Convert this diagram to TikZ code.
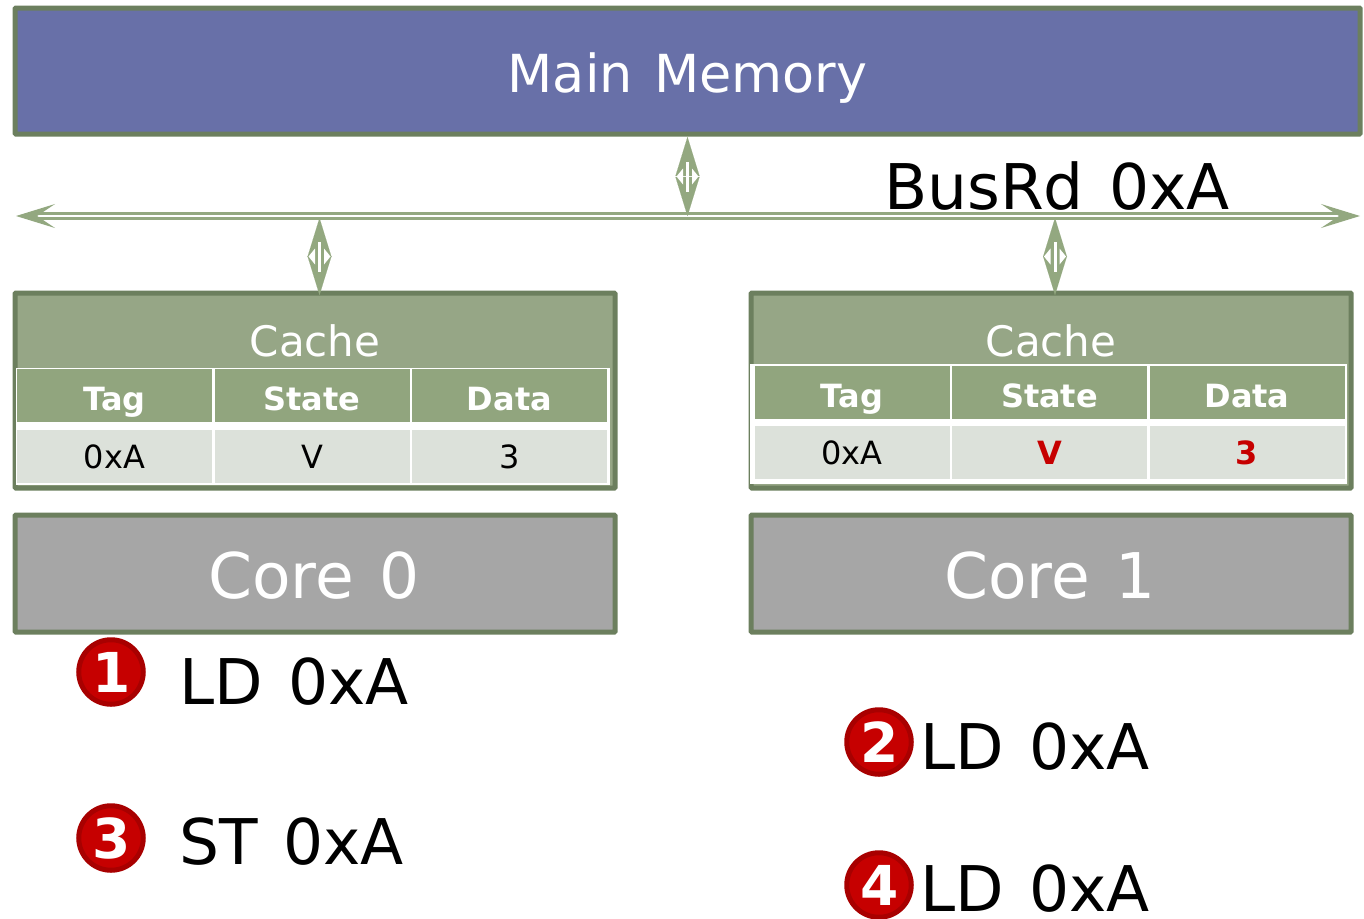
\documentclass[tikz,border=0pt]{standalone}
\usepackage{fontspec}
\setmainfont[WordSpace=1.28]{DejaVu Sans}
\usetikzlibrary{arrows.meta,calc}
\definecolor{bordergreen}{HTML}{6C7F5E}
\definecolor{cachefill}{HTML}{96A686}
\definecolor{headfill}{HTML}{91A57E}
\definecolor{rowfill}{HTML}{DCE1DA}
\definecolor{arrowgreen}{HTML}{93A880}
\definecolor{memfill}{HTML}{6870A8}
\definecolor{corefill}{HTML}{A6A6A6}
\definecolor{redfill}{HTML}{C60000}
\definecolor{redring}{HTML}{A80000}
\tikzset{
  x=1pt,y=-1pt,
  panel/.style={draw=bordergreen,line width=5pt,rounded corners=0.8pt,inner sep=0pt,outer sep=0pt},
  frame/.style={fill=white,draw=none,inner sep=0pt,outer sep=0pt},
  cell/.style={inner sep=0pt,outer sep=0pt,minimum width=#1},
  headcell/.style={cell=195pt,minimum height=53pt,fill=headfill,text=white,font=\bfseries\fontsize{32}{32}\selectfont},
  rowcell/.style={cell=195pt,minimum height=53pt,fill=rowfill,text=black,font=\fontsize{32}{32}\selectfont},
  redval/.style={text=redfill,font=\bfseries\fontsize{32}{32}\selectfont},
  title/.style={text=white,inner sep=0pt,anchor=base},
  big/.style={text=black,inner sep=0pt,anchor=base west,font=\fontsize{63}{63}\selectfont},
  badge/.style={circle,fill=redfill,draw=redring,line width=5pt,minimum size=64.5pt,inner sep=0pt,text=white,font=\bfseries\fontsize{55}{55}\selectfont},
  busline/.style={draw=arrowgreen,line width=2.6pt,double=white,double distance=2.5pt,
    {Stealth[length=39pt,width=24pt,inset=18pt,fill=arrowgreen]}-{Stealth[length=39pt,width=24pt,inset=18pt,fill=arrowgreen]}},
  linkline/.style={draw=arrowgreen,line width=0.01pt,
    {Triangle[length=39pt,width=24pt,fill=arrowgreen]}-{Triangle[length=39pt,width=24pt,fill=arrowgreen]}},
}
\newcommand{\linkarrow}[3]{%
  \draw[linkline] (#1) -- (#2) coordinate[midway] (#3);
  \fill[white] ($(#3)+(-11,0)$) -- ($(#3)+(-4.5,-8)$) -- ($(#3)+(-4.5,8)$) -- cycle;
  \fill[white] ($(#3)+(11,0)$) -- ($(#3)+(4.5,-8)$) -- ($(#3)+(4.5,8)$) -- cycle;
  \fill[white] ($(#3)+(-1.5,-15)$) rectangle ($(#3)+(1.5,15)$);
}
\begin{document}
\begin{tikzpicture}
\useasboundingbox (0,0) rectangle (1364,918);
% main memory
\node[panel,fill=memfill,minimum width=1345pt,minimum height=126pt] (mem) at (687.5,71) {};
\node[title,font=\fontsize{52.4}{52.4}\selectfont] (memt) at (687.5,92) {Main Memory};
% bus
\coordinate (busl) at (16,216);
\coordinate (busr) at (1360,216);
\draw[busline] (busl) -- (busr);
\node[font=\fontsize{63}{63}\selectfont,inner sep=0pt,anchor=base west] (bust) at (884,209) {BusRd 0xA};
% cache 0
\node[panel,fill=cachefill,minimum width=600pt,minimum height=195pt] (c0) at (315,390.5) {};
\node[title,font=\fontsize{42}{42}\selectfont] (c0t) at (315,356.5) {Cache};
\node[frame,minimum width=594pt,minimum height=117pt] (t0) at (312.5,426) {};
\node[headcell] (c0a) at (114.5,395.5) {};
\node[headcell] (c0b) at (312,395.5) {};
\node[headcell] (c0c) at (509.5,395.5) {};
\node[rowcell] (c0d) at (114.5,456) {};
\node[rowcell] (c0e) at (312,456) {};
\node[rowcell] (c0f) at (509.5,456) {};
\node[text=white,font=\bfseries\fontsize{32}{32}\selectfont,inner sep=0pt,anchor=base] at (114.5,410) {Tag};
\node[text=white,font=\bfseries\fontsize{32}{32}\selectfont,inner sep=0pt,anchor=base] at (312,410) {State};
\node[text=white,font=\bfseries\fontsize{32}{32}\selectfont,inner sep=0pt,anchor=base] at (509.5,410) {Data};
\node[font=\fontsize{32}{32}\selectfont,inner sep=0pt,anchor=base] at (114.5,468) {0xA};
\node[font=\fontsize{32}{32}\selectfont,inner sep=0pt,anchor=base] at (312,468) {V};
\node[font=\fontsize{32}{32}\selectfont,inner sep=0pt,anchor=base] at (509.5,468) {3};
% cache 1
\node[panel,fill=cachefill,minimum width=600pt,minimum height=195pt] (c1) at (1051,390.5) {};
\node[title,font=\fontsize{42}{42}\selectfont] (c1t) at (1051,356.5) {Cache};
\node[frame,minimum width=597pt,minimum height=120pt] (t1) at (1048.5,424) {};
\node[headcell] (c1a) at (852,392) {};
\node[headcell] (c1b) at (1049.5,392) {};
\node[headcell] (c1c) at (1247,392) {};
\node[rowcell] (c1d) at (852,452.7) {};
\node[rowcell] (c1e) at (1049.5,452.7) {};
\node[rowcell] (c1f) at (1247,452.7) {};
\node[text=white,font=\bfseries\fontsize{32}{32}\selectfont,inner sep=0pt,anchor=base] at (852,407) {Tag};
\node[text=white,font=\bfseries\fontsize{32}{32}\selectfont,inner sep=0pt,anchor=base] at (1049.5,407) {State};
\node[text=white,font=\bfseries\fontsize{32}{32}\selectfont,inner sep=0pt,anchor=base] at (1247,407) {Data};
\node[font=\fontsize{32}{32}\selectfont,inner sep=0pt,anchor=base] at (852,464.5) {0xA};
\node[redval,inner sep=0pt,anchor=base] at (1049.5,464.5) {V};
\node[redval,inner sep=0pt,anchor=base] at (1247,464.5) {3};
% cores
\node[panel,fill=corefill,minimum width=600pt,minimum height=117pt] (core0) at (315,573.5) {};
\node[panel,fill=corefill,minimum width=600pt,minimum height=117pt] (core1) at (1051,573.5) {};
\node[title,font=\fontsize{63}{63}\selectfont] at (314,598.5) {Core 0};
\node[title,font=\fontsize{63}{63}\selectfont] at (1050,598.5) {Core 1};
% links
\coordinate (j0) at (687.5,216);
\coordinate (j1) at (319.5,218);
\coordinate (j2) at (1055,218);
\coordinate (m0) at (687.5,137);
\coordinate (k1) at (319.5,295);
\coordinate (k2) at (1055,295);
\linkarrow{m0}{j0}{mid0}
\linkarrow{j1}{k1}{mid1}
\linkarrow{j2}{k2}{mid2}
% steps
\node[badge] (b1) at (111,672) {\raisebox{-2pt}{\hspace{1.5pt}1}};
\node[badge] (b2) at (879,742) {\raisebox{-2pt}{\hspace{1.5pt}2}};
\node[badge] (b3) at (111,838) {\raisebox{-2pt}{\hspace{1.5pt}3}};
\node[badge] (b4) at (879,885) {\raisebox{-2pt}{\hspace{1.5pt}4}};
\node[big] at (179,704.5) {LD 0xA};
\node[big] at (179,864.5) {ST 0xA};
\node[big] at (920,769.5) {LD 0xA};
\node[big] at (920,911.5) {LD 0xA};
\end{tikzpicture}
\end{document}
